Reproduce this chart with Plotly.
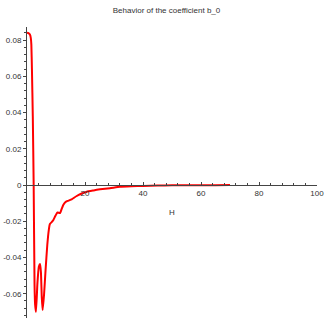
import plotly.graph_objects as go

# values
H = [0, 0.5, 1.0, 1.3, 1.5, 1.7, 2.0, 2.3, 2.6, 2.8, 3.1, 3.6, 4.1, 4.5, 4.8, 5.1, 5.4,
     5.9, 6.4, 7.0, 7.5, 7.9, 8.5, 9.1, 9.8, 10.5, 11.4, 12.0, 12.5, 13.2, 14.0, 15.4,
     17.0, 18.3, 20.6, 23.0, 25.2, 28.6, 32, 36, 40, 45, 50, 55, 60, 65, 70]
b0 = [0.0840, 0.0838, 0.0830, 0.0812, 0.0775, 0.0640, 0.0380, 0.0000, -0.0550, -0.0660,
      -0.0700, -0.0540, -0.0450, -0.0436, -0.0480, -0.0620, -0.0690, -0.0600, -0.0470,
      -0.0330, -0.0250, -0.0215, -0.0205, -0.0193, -0.0170, -0.0152, -0.0155, -0.0130,
      -0.0110, -0.0095, -0.0088, -0.0079, -0.0062, -0.0051, -0.0037, -0.0030, -0.0024,
      -0.0018, -0.0010, -0.0007, -0.0005, -0.0003, -0.0002, -0.00015, -0.0001,
      -0.00008, -0.00005]

x_ticks = [20, 40, 60, 80, 100]
y_ticks = [-0.06, -0.04, -0.02, 0, 0.02, 0.04, 0.06, 0.08]
y_tick_text = ["-0.06", "-0.04", "-0.02", "0", "0.02", "0.04", "0.06", "0.08"]

y_min, y_max = -0.0734, 0.0872

fig = go.Figure()
fig.add_trace(
    go.Scatter(
        x=H,
        y=b0,
        mode="lines",
        line={"color": "#ff0000", "width": 2, "shape": "spline", "smoothing": 0.4},
        showlegend=False,
    )
)

axis_font = {"family": "Liberation Sans, Arial, sans-serif", "size": 8, "color": "#333333"}

fig.update_layout(
    width=333,
    height=328,
    margin={"l": 27, "r": 16, "t": 27, "b": 10, "autoexpand": False},
    paper_bgcolor="white",
    plot_bgcolor="white",
    font=axis_font,
    title={
        "text": "Behavior of the coefficient b_0",
        "x": 0.5,
        "xanchor": "center",
        "y": 1 - 10 / 328,
        "yanchor": "middle",
        "font": {"size": 8, "color": "#333333"},
    },
    xaxis={
        "range": [0, 100],
        "automargin": False,
        "showgrid": False,
        "zeroline": False,
        "showline": True,
        "linecolor": "#444444",
        "linewidth": 1,
        "anchor": "free",
        "position": (0 - y_min) / (y_max - y_min),
        "tickvals": x_ticks,
        "ticks": "inside",
        "ticklen": 3,
        "tickcolor": "#444444",
        "minor": {"dtick": 4, "ticks": "inside", "ticklen": 2, "tickcolor": "#444444"},
        "tickfont": axis_font,
    },
    yaxis={
        "range": [y_min, y_max],
        "automargin": False,
        "showgrid": False,
        "zeroline": False,
        "showline": True,
        "linecolor": "#444444",
        "linewidth": 1,
        "tickvals": y_ticks,
        "ticktext": y_tick_text,
        "ticks": "outside",
        "ticklen": 3,
        "tickcolor": "#444444",
        "minor": {"dtick": 0.004, "ticks": "outside", "ticklen": 2, "tickcolor": "#444444"},
        "tickfont": axis_font,
    },
    annotations=[
        {
            "text": "H",
            "x": 50,
            "xref": "x",
            "y": -0.015,
            "yref": "y",
            "showarrow": False,
            "font": axis_font,
        }
    ],
)

# drop the page's default body margin so the figure sits at the window's corner
fig.write_html(
    "out.html",
    config={"displayModeBar": False},
    post_script="document.body.style.margin = '0';",
)
